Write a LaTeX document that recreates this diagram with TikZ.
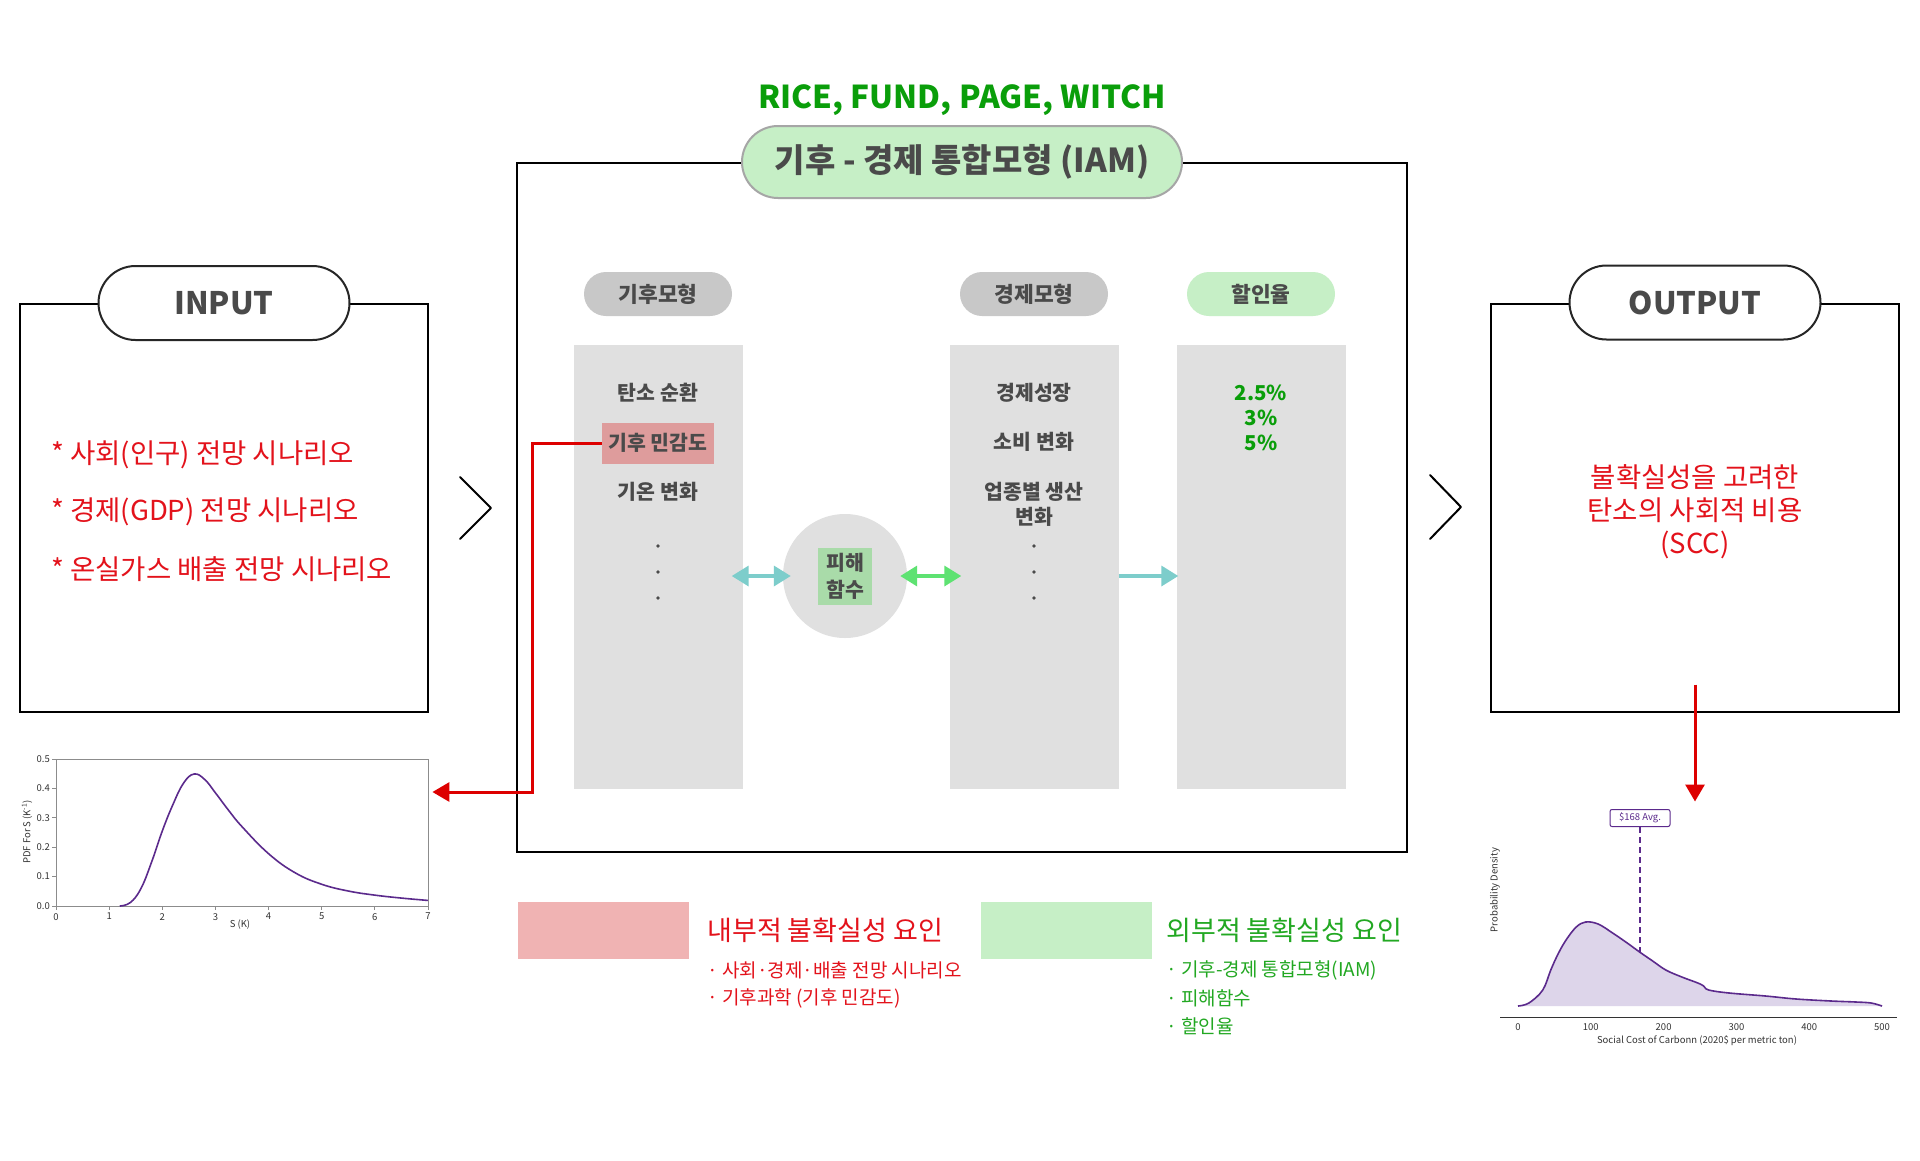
\documentclass[tikz,border=0pt]{standalone}
\usepackage{fontspec}
\setmainfont{Noto Sans CJK KR}
\usetikzlibrary{arrows.meta, positioning, calc}
\definecolor{PanelGray}{RGB}{224,224,224}
\definecolor{HeadGray}{RGB}{200,200,200}
\definecolor{TextGray}{RGB}{74,74,74}
\definecolor{LightGreen}{RGB}{198,239,198}
\definecolor{RiceGreen}{RGB}{10,158,10}
\definecolor{KeyGreen}{RGB}{34,168,34}
\definecolor{RedText}{RGB}{227,18,27}
\definecolor{RedLine}{RGB}{221,0,0}
\definecolor{SensRed}{RGB}{222,156,156}
\definecolor{PinkKey}{RGB}{240,179,179}
\definecolor{DmgGreen}{RGB}{169,219,169}
\definecolor{TealArrow}{RGB}{125,205,203}
\definecolor{LimeArrow}{RGB}{94,226,114}
\definecolor{PlotPurple}{RGB}{91,42,140}
\definecolor{FillPurple}{RGB}{221,213,234}
\definecolor{AxisGray}{RGB}{140,140,140}

\begin{document}
\begin{tikzpicture}[x=1pt, y=1pt,
    frame/.style={draw=black, line width=2pt, minimum width=408pt, minimum height=408pt, inner sep=0pt},
    tagpill/.style={draw=black!85, line width=2pt, fill=white, rounded corners=37pt,
                    minimum width=251pt, minimum height=74pt, font=\fontsize{31}{34}\selectfont\bfseries, text=TextGray},
    headpill/.style={fill=HeadGray, rounded corners=22pt, minimum width=148pt, minimum height=44pt,
                     font=\fontsize{21.5}{24}\selectfont\bfseries, text=TextGray},
    column/.style={fill=PanelGray, minimum width=169pt, minimum height=444pt, inner sep=0pt},
    item/.style={font=\fontsize{20.5}{25}\selectfont\bfseries, text=TextGray, align=center, inner sep=0pt},
    scenario/.style={font=\fontsize{27.5}{30}\selectfont, text=RedText, anchor=west, inner sep=0pt},
    keybox/.style={minimum width=171pt, minimum height=57pt, inner sep=0pt},
    keytitle/.style={font=\fontsize{27}{30}\selectfont, inner sep=0pt},
    keyitem/.style={font=\fontsize{19}{22}\selectfont, anchor=west, inner sep=0pt},
    tealarrow/.style={{Triangle[length=17pt,width=20pt]}-{Triangle[length=17pt,width=20pt]}, line width=3.5pt, color=TealArrow},
    redarrow/.style={-{Triangle[length=17pt,width=19pt]}, line width=3pt, color=RedLine},
    chevron/.style={line width=2pt, line join=round, line cap=round},
    ticklabel/.style={font=\fontsize{9.5}{11}\selectfont, text=black!80, inner sep=0pt},
]
\fill[white] (0,0) rectangle (1920,-1160);
\useasboundingbox (0,0) rectangle (1920,-1160);

% input
\node[frame] (inbox) at (224,-508) {};
\node[tagpill] (intag) at (inbox.north) {INPUT};
\node[scenario] (pop) at (51,-455) {* 사회(인구) 전망 시나리오};
\node[scenario, below=57pt of pop.west, anchor=west] (gdp) {* 경제(GDP) 전망 시나리오};
\node[scenario, below=57pt of gdp.west, anchor=west] (ghg) {* 온실가스 배출 전망 시나리오};
\draw[chevron] (460,-477) -- (491,-508) -- (460,-539);

% IAM
\node[frame, minimum width=890pt, minimum height=689pt] (iam) at (962,-507.5) {};
\node[tagpill, draw=black!35, fill=LightGreen, rounded corners=36pt, minimum width=440pt, minimum height=72pt,
      font=\fontsize{33}{36}\selectfont\bfseries] (iamtag) at (iam.north) {기후 - 경제 통합모형 (IAM)};
\node[above=9pt of iamtag, inner sep=0pt, font=\fontsize{31.5}{34}\selectfont\bfseries, text=RiceGreen] (models) {RICE, FUND, PAGE, WITCH};

\node[headpill] (climhead) at (658,-294) {기후모형};
\node[headpill] (econhead) at (1034,-294) {경제모형};
\node[headpill, fill=LightGreen] (dischead) at (1261,-294) {할인율};
\node[column, below=29pt of climhead] (clim) {};
\node[column, below=29pt of econhead] (econ) {};
\node[column, below=29pt of dischead] (disc) {};

\node[item] (carbon) at (658,-393) {탄소 순환};
\node[item, fill=SensRed, minimum width=112pt, minimum height=41pt] (sens) at (658,-443) {기후 민감도};
\node[item] (temp) at (658,-492) {기온 변화};
\node[item] (growth) at (1034,-393) {경제성장};
\node[item] (consume) at (1034,-442) {소비 변화};
\node[item] (sector) at (1034,-504.5) {업종별 생산\\변화};
\node[item, text=RiceGreen] (rates) at (1261,-418) {2.5\%\\3\%\\5\%};
\foreach \y in {546,572,598} {
  \fill[TextGray] (658,-\y) circle (1.8pt);
  \fill[TextGray] (1034,-\y) circle (1.8pt);
}

\node[circle, fill=PanelGray, minimum size=124pt, inner sep=0pt] (dmg) at (845,-576) {};
\node[item, fill=DmgGreen, minimum width=54pt, minimum height=57pt, font=\fontsize{20.5}{27}\selectfont\bfseries] (dmgfn) at (dmg) {피해\\함수};

\draw[tealarrow] ($(clim.east |- dmg.center)+(-11,0)$) -- ($(dmg.west)+(8,0)$);
\draw[tealarrow, color=LimeArrow] ($(dmg.east)+(-7,0)$) -- ($(econ.west |- dmg.center)+(12,0)$);
\draw[tealarrow, {-Triangle[length=17pt,width=20pt]}] (econ.east |- dmg.center) -- ($(disc.west |- dmg.center)+(2,0)$);

% output
\draw[chevron] (1430,-475) -- (1461,-507) -- (1430,-539);
\node[frame] (outbox) at (1695,-507.5) {};
\node[tagpill] (outtag) at (outbox.north) {OUTPUT};
\node[font=\fontsize{27.5}{33}\selectfont, text=RedText, align=center, inner sep=0pt] (scc) at (1695,-512) {불확실성을 고려한\\탄소의 사회적 비용\\(SCC)};

% climate sensitivity pdf
\node[draw=AxisGray, line width=0.8pt, minimum width=372pt, minimum height=147pt, inner sep=0pt] (pdfframe) at (242,-832.5) {};
\begin{scope}[shift={(56pt,-906pt)}, x=53.14pt, y=294pt]
  \foreach \k in {0,...,7} {
    \draw[AxisGray, line width=0.8pt] (\k,0) -- ++(0,-4pt);
    \node[ticklabel, below=7pt] at (\k,0) {\k};
  }
  \foreach \v in {0.0,0.1,0.2,0.3,0.4,0.5} {
    \draw[AxisGray, line width=0.8pt] (0,\v) -- ++(-4pt,0);
    \node[ticklabel, left=6pt] at (0,\v) {\v};
  }
  \draw[PlotPurple, line width=1.6pt] plot[smooth, tension=0.7] coordinates {
    (1.2,0) (1.4,0.012) (1.6,0.06) (1.8,0.15) (2.0,0.255) (2.2,0.345) (2.4,0.418)
    (2.6,0.449) (2.8,0.43) (3.0,0.385) (3.25,0.325) (3.5,0.27)
    (4.0,0.178) (4.5,0.113) (5.0,0.074) (5.5,0.051) (6.0,0.037) (6.5,0.027) (7.0,0.019)};
\end{scope}
\node[ticklabel, rotate=90] (pdfylabel) at (27,-832) {PDF For S (K\textsuperscript{-1})};
\node[ticklabel] (pdfxlabel) at (240,-925) {S (K)};

\coordinate (bend) at (532,-792);
\draw[redarrow] (sens.west) -| (bend) -- ($(pdfframe.east |- bend)+(4,0)$);

% scc distribution
\draw[black!80, line width=1pt] (1500,-1017) -- (1897,-1017);
\begin{scope}[shift={(1518pt,-1006pt)}, x=0.728pt, y=1pt]
  \fill[FillPurple] plot[smooth, tension=0.6] coordinates {
    (0,0) (15,3) (34,16) (45,36) (55,52) (66,66) (80,79) (93,84) (110,82) (130,73) (150,63)
    (167,54) (185,45) (203,36) (225,29) (247,23) (255,20) (262,16) (290,13) (340,10) (382,7)
    (430,5) (464,4) (485,3) (500,0)} -- cycle;
  \draw[PlotPurple, line width=1.6pt] plot[smooth, tension=0.6] coordinates {
    (0,0) (15,3) (34,16) (45,36) (55,52) (66,66) (80,79) (93,84) (110,82) (130,73) (150,63)
    (167,54) (185,45) (203,36) (225,29) (247,23) (255,20) (262,16) (290,13) (340,10) (382,7)
    (430,5) (464,4) (485,3) (500,0)};
  \foreach \v in {0,100,200,300,400,500}
    \node[ticklabel] at (\v,-21) {\v};
\end{scope}
\node[draw=PlotPurple, line width=1pt, rounded corners=2pt, minimum width=60pt, minimum height=17pt, inner sep=0pt,
      font=\fontsize{9.5}{10}\selectfont, text=PlotPurple] (avg) at (1640,-818) {\$168 Avg.};
\coordinate (avgfoot) at (1640,-952);
\draw[PlotPurple, line width=2pt, dash pattern=on 6pt off 4pt] (avg.south) -- (avgfoot);
\node[ticklabel, rotate=90] (sccylabel) at (1495,-890) {Probability Density};
\node[ticklabel] (sccxlabel) at (1697,-1041) {Social Cost of Carbonn (2020\$ per metric ton)};

\coordinate (sccend) at ([yshift=-89pt]outbox.south);
\draw[redarrow] ([yshift=28pt]outbox.south) -- (sccend);

% legend
\node[keybox, fill=PinkKey] (innerkey) at (603.5,-930.5) {};
\node[keytitle, text=RedText, right=18pt of innerkey] (innertitle) {내부적 불확실성 요인};
\node[keyitem, text=RedText] (inner1) at (707,-970) {· 사회·경제·배출 전망 시나리오};
\node[keyitem, text=RedText, below=28pt of inner1.west, anchor=west] (inner2) {· 기후과학 (기후 민감도)};
\node[keybox, fill=LightGreen] (outerkey) at (1066.5,-930.5) {};
\node[keytitle, text=KeyGreen, right=14pt of outerkey] (outertitle) {외부적 불확실성 요인};
\node[keyitem, text=KeyGreen] (outer1) at (1166,-970) {· 기후-경제 통합모형(IAM)};
\node[keyitem, text=KeyGreen, below=28pt of outer1.west, anchor=west] (outer2) {· 피해함수};
\node[keyitem, text=KeyGreen, below=28pt of outer2.west, anchor=west] (outer3) {· 할인율};
\end{tikzpicture}
\end{document}
